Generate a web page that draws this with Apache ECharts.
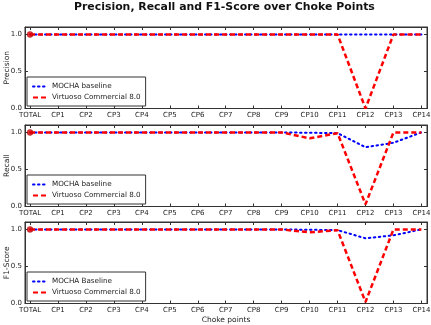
<!DOCTYPE html>
<html><head><meta charset="utf-8">
<script src="https://cdn.jsdelivr.net/npm/echarts@6/dist/echarts.min.js"></script>
<style>html,body{margin:0;padding:0;background:#fff}#c{width:431px;height:325px}</style>
</head><body><div id="c"></div>
<script>
const categories = ['TOTAL','CP1','CP2','CP3','CP4','CP5','CP6','CP7','CP8','CP9','CP10','CP11','CP12','CP13','CP14'];
const yTicks = [0, 0.5, 1.0];
const precisionMocha    = [1,1,1,1,1,1,1,1,1,1,1,1,1,1,1];
const precisionVirtuoso = [1,1,1,1,1,1,1,1,1,1,1,1,0,1,1];
const recallMocha       = [1,1,1,1,1,1,1,1,1,1,0.995,0.99,0.80,0.86,1.0];
const recallVirtuoso    = [1,1,1,1,1,1,1,1,1,1,0.92,0.99,0.03,1.0,1.0];
const f1Mocha           = [1,1,1,1,1,1,1,1,1,1,0.995,0.99,0.88,0.92,1.0];
const f1Virtuoso        = [1,1,1,1,1,1,1,1,1,1,0.96,0.99,0.02,1.0,1.0];

const panels = [
  {name:'Precision', mocha:precisionMocha, virt:precisionVirtuoso, mName:'MOCHA baseline', vName:'Virtuoso Commercial 8.0'},
  {name:'Recall', mocha:recallMocha, virt:recallVirtuoso, mName:'MOCHA baseline', vName:'Virtuoso Commercial 8.0'},
  {name:'F1-Score', mocha:f1Mocha, virt:f1Virtuoso, mName:'MOCHA Baseline', vName:'Virtuoso Commercial 8.0'}
];
const tops = [27, 125, 222];
const gridH = 81.5;
const font = 'DejaVu Sans';
const xIdx = categories.map((c,i)=>i);
const grids=[], xAxes=[], yAxes=[], series=[], legends=[];
panels.forEach((p,k)=>{
  grids.push({left:25, right:4, top:tops[k], height:gridH, show:true, borderColor:'#333', borderWidth:1,
    backgroundColor:'#fff', containLabel:false, outerBoundsMode:'none'});
  const xBase = {gridIndex:k, type:'value', min:-0.18, max:14.2, splitLine:{show:false},
    axisLine:{show:true, onZero:false, lineStyle:{color:'#333'}}};
  xAxes.push(Object.assign({}, xBase, {position:'bottom',
    axisTick:{show:true, inside:true, length:3, customValues:xIdx, lineStyle:{color:'#333'}},
    axisLabel:{show:true, customValues:xIdx, formatter:v=>categories[Math.round(v)], color:'#222', fontFamily:font, fontSize:7, margin:3},
    name: k===2 ? 'Choke points' : '', nameLocation:'middle', nameGap:13, nameMoveOverlap:false,
    nameTextStyle:{fontFamily:font, fontSize:7.5, color:'#222'}}));
  xAxes.push(Object.assign({}, xBase, {position:'top',
    axisTick:{show:true, inside:true, length:3, customValues:xIdx, lineStyle:{color:'#333'}},
    axisLabel:{show:false}}));
  const yBase = {gridIndex:k, type:'value', min:0, max:1.1, splitLine:{show:false},
    axisLine:{show:true, onZero:false, lineStyle:{color:'#333'}}};
  yAxes.push(Object.assign({}, yBase, {position:'left',
    axisTick:{show:true, inside:true, length:3, customValues:yTicks, lineStyle:{color:'#333'}},
    axisLabel:{show:true, customValues:yTicks, formatter:v=>v.toFixed(1), color:'#222', fontFamily:font, fontSize:7, margin:3},
    name:p.name, nameLocation:'middle', nameGap:14, nameRotate:90, nameMoveOverlap:false,
    nameTextStyle:{fontFamily:font, fontSize:7.5, color:'#222'}}));
  yAxes.push(Object.assign({}, yBase, {position:'right',
    axisTick:{show:true, inside:true, length:3, customValues:yTicks, lineStyle:{color:'#333'}},
    axisLabel:{show:false}}));
  series.push({type:'line', name:p.mName, xAxisIndex:2*k, yAxisIndex:2*k, symbol:'none', animation:false,
    data:p.mocha.map((v,i)=>[i,v]), lineStyle:{color:'#0000ff', width:2, type:[1.5,3.5], cap:'round'}, itemStyle:{color:'#0000ff'}});
  series.push({type:'line', name:p.vName, xAxisIndex:2*k, yAxisIndex:2*k, symbol:'none', animation:false,
    data:p.virt.map((v,i)=>[i,v]), lineStyle:{color:'#ff0000', width:2.5, type:[5,3]}, itemStyle:{color:'#ff0000'}});
  series.push({type:'scatter', name:'marker'+k, xAxisIndex:2*k, yAxisIndex:2*k, animation:false,
    data:[[0,p.virt[0]]], symbol:'circle', symbolSize:6, itemStyle:{color:'#dd0000', borderColor:'#880000', borderWidth:0.5}, z:5});
  legends.push({data:[p.mName, p.vName], orient:'vertical', left:27, top:tops[k]+50, itemGap:4,
    itemWidth:14, itemHeight:6, padding:[6,5,5,5], borderColor:'#333', borderWidth:1, backgroundColor:'#fff',
    itemStyle:{opacity:0}, textStyle:{fontFamily:font, fontSize:7.2, color:'#222'}, selectedMode:false});
});
const chart = echarts.init(document.getElementById('c'), null, {renderer:'canvas'});
chart.setOption({
  animation:false,
  backgroundColor:'#fff',
  title:{text:'Precision, Recall and F1-Score over Choke Points', left:69, top:-3,
    textStyle:{fontFamily:font, fontSize:10.9, fontWeight:'bold', color:'#111'}},
  grid:grids, xAxis:xAxes, yAxis:yAxes, series:series, legend:legends
});
</script></body></html>
